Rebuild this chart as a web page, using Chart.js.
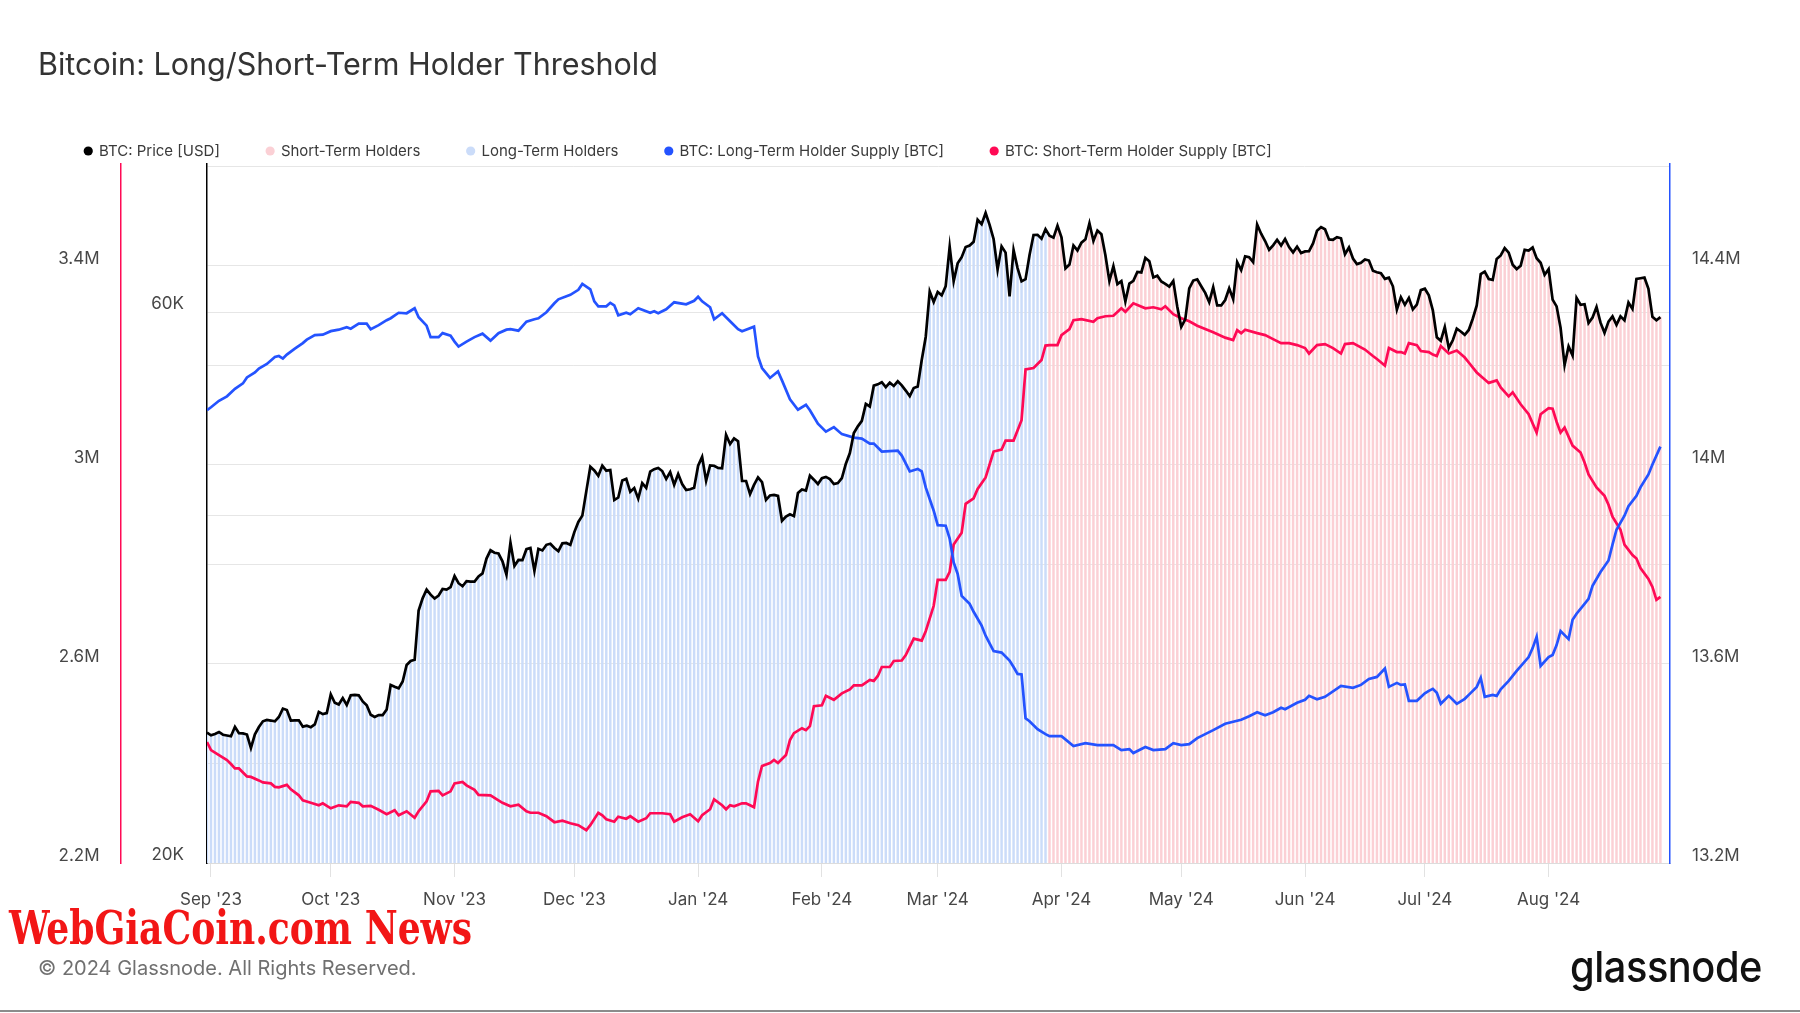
<!DOCTYPE html>
<html>
<head>
<meta charset="utf-8">
<title>Bitcoin: Long/Short-Term Holder Threshold</title>
<script src="https://cdn.jsdelivr.net/npm/chart.js@4.4.1/dist/chart.umd.min.js"></script>
<style>
  html, body { margin: 0; padding: 0; background: #fff; }
  #wrap { position: relative; width: 1800px; height: 1013px; overflow: hidden; }
  #chart { position: absolute; left: 0; top: 0; }
  .watermark {
    position: absolute; left: 9px; top: 900px;
    font-family: 'DejaVu Serif Condensed', 'DejaVu Serif', serif; font-stretch: condensed;
    font-weight: bold; font-size: 47px; color: #f21616; white-space: nowrap;
    transform-origin: 0 0;
  }
  .copyright {
    position: absolute; left: 38px; top: 956px;
    font-family: Inter, sans-serif; font-size: 20px; color: #707070; white-space: nowrap;
  }
  .logo {
    position: absolute; left: 1570px; top: 940px;
    font-family: Inter, sans-serif; font-size: 43px; font-weight: 500; color: #111;
    letter-spacing: -0.5px; white-space: nowrap; transform-origin: 0 0;
  }
  .rule { position: absolute; left: 0; top: 1010px; width: 1800px; height: 2px; background: #8c8c8c; }
</style>
</head>
<body>
<div id="wrap">
  <canvas id="chart" width="1800" height="1013"></canvas>
  <div class="watermark" id="watermark">WebGiaCoin.com News</div>
  <div class="copyright">© 2024 Glassnode. All Rights Reserved.</div>
  <div class="logo" id="logo">glassnode</div>
  <div class="rule"></div>
</div>
<script>
// Bitcoin: Long/Short-Term Holder Threshold

// x positions are days since 1 Sep 2023
// daily BTC price [USD], first value is 31 Aug 2023 (day -1)
const priceStartDay = -1;
const btcPrice = [
  25940,
  // Sep '23
  25800, 25870, 25970, 25830, 25790, 25750, 26240, 25910, 25900, 25840,
  25160, 25850, 26230, 26530, 26600, 26570, 26530, 26760, 27210, 27130,
  26570, 26580, 26580, 26250, 26300, 26220, 26370, 27030, 26910, 26970,
  // Oct '23
  27990, 27530, 27430, 27790, 27410, 27950, 27970, 27940, 27600, 27390,
  26880, 26760, 26860, 26860, 27160, 28520, 28420, 28330, 28720, 29680,
  29920, 29990, 33090, 33900, 34500, 34150, 33890, 34090, 34540, 34500, 34670,
  // Nov '23
  35440, 34940, 34730, 35080, 35050, 35050, 35420, 35630, 36700, 37310,
  37130, 37070, 36500, 35540, 37880, 36160, 36600, 36580, 37390, 37480,
  35810, 37420, 37300, 37720, 37800, 37480, 37250, 37830, 37860, 37710,
  // Dec '23
  38690, 39480, 39980, 41980, 44080, 43750, 43290, 44170, 43730, 43790,
  41240, 41450, 42890, 43020, 41930, 42240, 41360, 42660, 42260, 43650,
  43860, 43970, 43700, 43010, 43610, 42520, 43440, 42580, 42070, 42140, 42260,
  // Jan '24
  44170, 44950, 42850, 44180, 44160, 43970, 43930, 46970, 46120, 46630,
  46370, 42850, 42840, 41730, 42510, 43150, 42740, 41260, 41620, 41660,
  41580, 39570, 39900, 40080, 39940, 41820, 42120, 42030, 43300, 42950, 42580,
  // Feb '24
  43080, 43190, 43000, 42580, 42660, 43080, 44340, 45290, 47130, 47770,
  48290, 49960, 49700, 51810, 51940, 52160, 51660, 52120, 51780, 52260,
  51840, 51300, 50730, 51570, 51730, 54520, 57090, 62500, 61200,
  // Mar '24
  62440, 62030, 63170, 68330, 63800, 66110, 66930, 68300, 68500, 69020,
  72120, 71480, 73100, 71400, 69400, 65320, 68390, 67550, 61910, 67910,
  65500, 63780, 64060, 67230, 69960, 69990, 69450, 70780, 69850, 69580, 71280,
  // Apr '24
  69650, 65460, 65960, 68510, 67840, 68900, 69360, 71620, 69140, 70590,
  70060, 67200, 63820, 65740, 63430, 63810, 61280, 63510, 63840, 64990,
  64930, 66840, 66400, 64290, 64500, 63770, 63460, 63120, 63840, 60640,
  // May '24
  58250, 59120, 62890, 63890, 64030, 63160, 62330, 61190, 63050, 60790,
  60790, 61450, 62900, 61550, 66270, 65230, 67050, 66940, 66280, 71450,
  70140, 69120, 67930, 68530, 69290, 68510, 69390, 68300, 67580, 68360, 67490,
  // Jun '24
  67710, 67750, 68800, 70570, 71080, 70760, 69340, 69300, 69650, 69510,
  67320, 68240, 66750, 66010, 66190, 66640, 66490, 65150, 64960, 64830,
  64100, 64260, 63160, 60280, 61800, 60870, 61710, 60320, 60890, 62680,
  // Jul '24
  62850, 62030, 60200, 57060, 56660, 58240, 55860, 56710, 58050, 57720,
  57340, 57890, 59200, 60800, 64720, 65040, 64090, 63970, 66710, 67160,
  68170, 67550, 65930, 65370, 65800, 67910, 67810, 68250, 66800, 66190, 64620,
  // Aug '24
  65350, 61500, 60680, 58120, 53990, 56030, 55030, 61710, 60880, 60940,
  58710, 59350, 60610, 58740, 57560, 58870, 59480, 58480, 59490, 59010,
  61160, 60380, 64090, 64180, 64260, 62830, 59420, 59030, 59390
];

// first day shaded as "Short-Term Holders" (29 Mar 2024), earlier days are "Long-Term Holders"
const sthFromDay = 210;

// Long-Term Holder supply [M BTC]
const lthDays = [
  -1, 0, 2, 4, 6, 8, 9, 11, 12, 14,
  16, 17, 18, 19, 21, 23, 24, 26, 28, 30,
  32, 34, 35, 37, 39, 40, 42, 44, 45, 47,
  49, 51, 52, 54, 55, 57, 58, 60, 61, 62,
  64, 66, 68, 70, 72, 74, 75, 77, 79, 81,
  82, 84, 86, 87, 90, 92, 93, 95, 96, 97,
  99, 100, 101, 102, 104, 105, 107, 110, 111, 112,
  114, 116, 119, 121, 122, 123, 125, 126, 128, 130,
  132, 133, 136, 137, 138, 140, 142, 143, 145, 147,
  149, 150, 152, 154, 156, 158, 161, 163, 165, 166,
  168, 172, 173, 175, 177, 178, 179, 181, 182, 184,
  185, 186, 187, 188, 190, 191, 193, 194, 196, 198,
  200, 201, 202, 203, 204, 205, 207, 209, 210, 213,
  216, 219, 222, 226, 228, 230, 231, 234, 236, 239,
  241, 243, 245, 247, 251, 254, 258, 260, 262, 264,
  266, 268, 269, 272, 274, 275, 277, 279, 283, 286,
  288, 290, 292, 294, 295, 297, 298, 299, 300, 302,
  304, 305, 306, 307, 308, 310, 312, 314, 315, 317,
  318, 319, 321, 322, 323, 325, 326, 327, 330, 331,
  332, 333, 335, 336, 337, 338, 340, 341, 342, 344,
  345, 346, 348, 350, 351, 352, 354, 355, 357, 358,
  360, 361, 363
];
const lthSupply = [
  14.110, 14.116, 14.129, 14.138, 14.153, 14.164, 14.176, 14.186, 14.194, 14.203,
  14.217, 14.219, 14.214, 14.222, 14.234, 14.245, 14.252, 14.261, 14.262, 14.269,
  14.272, 14.277, 14.274, 14.284, 14.284, 14.273, 14.281, 14.291, 14.295, 14.306,
  14.305, 14.315, 14.297, 14.280, 14.257, 14.257, 14.265, 14.260, 14.248, 14.238,
  14.248, 14.257, 14.264, 14.250, 14.265, 14.272, 14.273, 14.270, 14.288, 14.293,
  14.295, 14.307, 14.325, 14.333, 14.342, 14.352, 14.364, 14.353, 14.329, 14.319,
  14.319, 14.326, 14.321, 14.301, 14.306, 14.303, 14.315, 14.306, 14.309, 14.305,
  14.313, 14.327, 14.323, 14.330, 14.338, 14.329, 14.317, 14.293, 14.305, 14.289,
  14.273, 14.269, 14.278, 14.218, 14.195, 14.175, 14.188, 14.170, 14.132, 14.111,
  14.121, 14.110, 14.083, 14.067, 14.076, 14.062, 14.055, 14.053, 14.043, 14.043,
  14.027, 14.029, 14.019, 13.987, 13.992, 13.987, 13.955, 13.908, 13.879, 13.878,
  13.852, 13.804, 13.781, 13.737, 13.721, 13.705, 13.677, 13.657, 13.626, 13.623,
  13.607, 13.594, 13.580, 13.579, 13.491, 13.485, 13.469, 13.459, 13.455, 13.455,
  13.435, 13.441, 13.437, 13.437, 13.427, 13.429, 13.421, 13.433, 13.427, 13.429,
  13.441, 13.437, 13.439, 13.451, 13.467, 13.480, 13.488, 13.495, 13.503, 13.497,
  13.503, 13.512, 13.509, 13.522, 13.528, 13.536, 13.529, 13.534, 13.556, 13.552,
  13.558, 13.570, 13.574, 13.591, 13.554, 13.562, 13.558, 13.559, 13.526, 13.526,
  13.541, 13.546, 13.550, 13.542, 13.520, 13.536, 13.520, 13.530, 13.538, 13.554,
  13.572, 13.534, 13.538, 13.536, 13.549, 13.566, 13.576, 13.586, 13.614, 13.632,
  13.655, 13.596, 13.614, 13.618, 13.638, 13.666, 13.650, 13.689, 13.701, 13.721,
  13.731, 13.757, 13.785, 13.808, 13.840, 13.870, 13.898, 13.917, 13.938, 13.955,
  13.981, 14.001, 14.037
];

// Short-Term Holder supply [M BTC]
const sthDays = [
  -1, 0, 2, 4, 5, 6, 7, 9, 10, 12,
  13, 15, 16, 17, 19, 20, 22, 23, 25, 27,
  28, 30, 32, 34, 35, 37, 38, 40, 42, 44,
  46, 47, 49, 51, 52, 54, 55, 57, 58, 60,
  61, 63, 64, 66, 67, 70, 72, 73, 75, 77,
  79, 80, 82, 84, 86, 88, 90, 92, 94, 95,
  97, 98, 99, 101, 102, 104, 105, 107, 109, 110,
  113, 115, 116, 118, 120, 122, 123, 125, 126, 128,
  129, 130, 131, 133, 134, 135, 136, 137, 138, 140,
  141, 142, 144, 145, 146, 148, 149, 150, 151, 153,
  154, 156, 158, 160, 161, 163, 165, 166, 167, 168,
  170, 171, 173, 174, 176, 178, 179, 181, 182, 184,
  185, 186, 188, 189, 191, 192, 194, 196, 198, 199,
  201, 203, 204, 206, 208, 209, 210, 212, 213, 215,
  216, 218, 221, 222, 224, 226, 228, 229, 231, 234,
  236, 238, 239, 241, 243, 245, 247, 251, 254, 256,
  257, 258, 259, 262, 264, 266, 268, 270, 272, 274,
  275, 277, 279, 281, 283, 284, 286, 289, 291, 292,
  294, 295, 297, 298, 299, 300, 302, 303, 305, 306,
  307, 308, 310, 312, 314, 315, 317, 319, 320, 322,
  323, 325, 326, 328, 330, 332, 333, 335, 336, 337,
  338, 339, 341, 343, 344, 345, 347, 349, 350, 351,
  353, 354, 356, 357, 358, 360, 361, 362, 363
];
const sthSupply = [
  2.443, 2.427, 2.417, 2.407, 2.399, 2.390, 2.390, 2.374, 2.373, 2.366,
  2.362, 2.360, 2.353, 2.352, 2.357, 2.348, 2.336, 2.326, 2.321, 2.316,
  2.320, 2.310, 2.316, 2.314, 2.323, 2.321, 2.314, 2.315, 2.307, 2.298,
  2.306, 2.296, 2.304, 2.291, 2.304, 2.324, 2.344, 2.345, 2.336, 2.344,
  2.360, 2.363, 2.356, 2.347, 2.337, 2.336, 2.326, 2.321, 2.314, 2.317,
  2.304, 2.301, 2.301, 2.294, 2.282, 2.285, 2.280, 2.276, 2.266, 2.276,
  2.301, 2.296, 2.288, 2.283, 2.293, 2.289, 2.294, 2.283, 2.290, 2.300,
  2.300, 2.298, 2.283, 2.292, 2.298, 2.284, 2.296, 2.308, 2.328, 2.316,
  2.308, 2.316, 2.314, 2.320, 2.320, 2.316, 2.312, 2.364, 2.395, 2.401,
  2.407, 2.401, 2.417, 2.447, 2.461, 2.471, 2.467, 2.475, 2.515, 2.517,
  2.536, 2.528, 2.541, 2.549, 2.557, 2.557, 2.568, 2.566, 2.576, 2.594,
  2.594, 2.606, 2.607, 2.618, 2.651, 2.647, 2.666, 2.717, 2.769, 2.769,
  2.785, 2.840, 2.864, 2.922, 2.933, 2.952, 2.975, 3.027, 3.031, 3.049,
  3.049, 3.090, 3.192, 3.195, 3.211, 3.240, 3.241, 3.241, 3.261, 3.273,
  3.291, 3.293, 3.288, 3.295, 3.299, 3.300, 3.315, 3.308, 3.325, 3.315,
  3.317, 3.313, 3.319, 3.303, 3.295, 3.289, 3.280, 3.267, 3.256, 3.251,
  3.271, 3.265, 3.272, 3.265, 3.261, 3.253, 3.245, 3.245, 3.241, 3.235,
  3.224, 3.241, 3.243, 3.235, 3.224, 3.243, 3.245, 3.232, 3.219, 3.213,
  3.200, 3.235, 3.227, 3.227, 3.224, 3.245, 3.241, 3.229, 3.227, 3.222,
  3.219, 3.239, 3.224, 3.230, 3.216, 3.206, 3.186, 3.172, 3.165, 3.170,
  3.156, 3.138, 3.146, 3.122, 3.102, 3.065, 3.102, 3.114, 3.113, 3.087,
  3.065, 3.075, 3.039, 3.025, 3.005, 2.981, 2.955, 2.938, 2.920, 2.896,
  2.870, 2.840, 2.819, 2.812, 2.793, 2.771, 2.755, 2.729, 2.735
];

// axis ticks
const monthTickDays = [0, 30, 61, 91, 122, 153, 182, 213, 243, 274, 304, 335];
const monthTickLabels = ["Sep '23", "Oct '23", "Nov '23", "Dec '23", "Jan '24", "Feb '24",
  "Mar '24", "Apr '24", "May '24", "Jun '24", "Jul '24", "Aug '24"];
const sthAxisTicks = [2.2, 2.4, 2.6, 2.8, 3.0, 3.2, 3.4, 3.6];
const sthAxisLabels = ['2.2M', '', '2.6M', '', '3M', '', '3.4M', ''];
const priceAxisTicks = [20000, 40000, 60000];
const priceAxisLabels = ['20K', '', '60K'];
const lthAxisTicks = [13.2, 13.6, 14.0, 14.4];
const lthAxisLabels = ['13.2M', '13.6M', '14M', '14.4M'];

const COLORS = {
  price: '#000000',
  lth: '#2453ff',
  sth: '#ff0a55',
  lthBar: 'rgb(203, 220, 249)',
  sthBar: 'rgb(251, 208, 213)',
  grid: '#e6e6e6',
  text: '#474747'
};

Chart.defaults.font.family = 'Inter, sans-serif';
Chart.defaults.color = COLORS.text;

const pricePoints = btcPrice.map((p, i) => ({ x: priceStartDay + i, y: p }));
const lthBarPoints = pricePoints.filter(pt => pt.x < sthFromDay);
const sthBarPoints = pricePoints.filter(pt => pt.x >= sthFromDay);
const lthPoints = lthDays.map((d, i) => ({ x: d, y: lthSupply[i] }));
const sthPoints = sthDays.map((d, i) => ({ x: d, y: sthSupply[i] }));

const tickFont = { size: 17 };

function fixedTicks(values) {
  return scale => { scale.ticks = values.map(v => ({ value: v })); };
}

// pin the legend block height so the plot starts where the original does
const legendHeightPlugin = {
  id: 'legendHeight',
  afterInit(chart) {
    const legend = chart.legend;
    const fit = legend.fit;
    legend.fit = function () {
      fit.call(this);
      this.height = 67.5;
    };
  }
};

const ctx = document.getElementById('chart').getContext('2d');
new Chart(ctx, {
  type: 'line',
  data: {
    datasets: [
      {
        label: 'BTC: Price [USD]',
        data: pricePoints,
        yAxisID: 'yPrice',
        borderColor: COLORS.price,
        backgroundColor: COLORS.price,
        borderWidth: 2.7,
        pointRadius: 0,
        order: 0
      },
      {
        type: 'bar',
        label: 'Short-Term Holders',
        data: sthBarPoints,
        yAxisID: 'yPrice',
        backgroundColor: COLORS.sthBar,
        barThickness: 1.8,
        grouped: false,
        order: 5
      },
      {
        type: 'bar',
        label: 'Long-Term Holders',
        data: lthBarPoints,
        yAxisID: 'yPrice',
        backgroundColor: COLORS.lthBar,
        barThickness: 1.8,
        grouped: false,
        order: 5
      },
      {
        label: 'BTC: Long-Term Holder Supply [BTC]',
        data: lthPoints,
        yAxisID: 'yLth',
        borderColor: COLORS.lth,
        backgroundColor: COLORS.lth,
        borderWidth: 2.7,
        pointRadius: 0,
        order: 1
      },
      {
        label: 'BTC: Short-Term Holder Supply [BTC]',
        data: sthPoints,
        yAxisID: 'ySth',
        borderColor: COLORS.sth,
        backgroundColor: COLORS.sth,
        borderWidth: 2.7,
        pointRadius: 0,
        order: 1
      }
    ]
  },
  options: {
    responsive: false,
    animation: false,
    devicePixelRatio: 1,
    events: [],
    layout: { padding: { left: 38, right: 0, top: 0, bottom: 0 } },
    plugins: {
      title: {
        display: true,
        text: 'Bitcoin: Long/Short-Term Holder Threshold',
        align: 'start',
        color: '#333333',
        font: { size: 30.5, weight: 'normal' },
        padding: { top: 48, bottom: 11.9 }
      },
      legend: {
        display: true,
        align: 'start',
        labels: {
          usePointStyle: true,
          pointStyle: 'circle',
          boxWidth: 6.5,
          boxHeight: 6.5,
          padding: 47,
          color: '#3a3a3a',
          font: { size: 15 },
          sort: (a, b) => a.datasetIndex - b.datasetIndex,
          generateLabels: chart =>
            Chart.defaults.plugins.legend.labels.generateLabels(chart)
              .map(item => ({ ...item, lineWidth: 0 }))
        }
      },
      tooltip: { enabled: false }
    },
    scales: {
      x: {
        type: 'linear',
        min: -1,
        max: 365.4,
        offset: false,
        afterBuildTicks: fixedTicks(monthTickDays),
        afterFit: scale => { scale.height = 150; },
        ticks: {
          autoSkip: false,
          maxRotation: 0,
          padding: 12.5,
          font: tickFont,
          callback: (v, i) => monthTickLabels[i]
        },
        grid: { offset: false, drawOnChartArea: false, tickLength: 14, color: '#e2e2e2' },
        border: { color: '#dcdcdc' }
      },
      ySth: {
        type: 'linear',
        position: 'left',
        weight: 2,
        min: 2.2,
        max: 3.605,
        afterBuildTicks: fixedTicks(sthAxisTicks),
        afterFit: scale => { scale.width = 82.5; },
        ticks: {
          autoSkip: false,
          padding: 21,
          labelOffset: -7,
          font: tickFont,
          callback: (v, i) => sthAxisLabels[i]
        },
        grid: { color: COLORS.grid, drawTicks: false },
        border: { color: COLORS.sth, width: 1.5 }
      },
      yPrice: {
        type: 'logarithmic',
        position: 'left',
        weight: 1,
        min: 20000,
        max: 80600,
        afterBuildTicks: fixedTicks(priceAxisTicks),
        afterFit: scale => { scale.width = 86.5; },
        ticks: {
          autoSkip: false,
          padding: 23,
          labelOffset: -8,
          font: tickFont,
          callback: (v, i) => priceAxisLabels[i]
        },
        grid: { color: COLORS.grid, drawTicks: false },
        border: { color: COLORS.price, width: 1.5 }
      },
      yLth: {
        type: 'linear',
        position: 'right',
        min: 13.2,
        max: 14.605,
        afterBuildTicks: fixedTicks(lthAxisTicks),
        afterFit: scale => { scale.width = 130; },
        ticks: {
          autoSkip: false,
          padding: 22,
          labelOffset: -7,
          font: tickFont,
          callback: (v, i) => lthAxisLabels[i]
        },
        grid: { display: false, drawTicks: false },
        border: { color: COLORS.lth, width: 1.5 }
      }
    }
  },
  plugins: [legendHeightPlugin]
});

// squeeze the overlay texts to the widths they have in the original
function fitWidth(id, width) {
  const el = document.getElementById(id);
  const w = el.getBoundingClientRect().width;
  el.style.transform = 'scaleX(' + (width / w) + ')';
}
fitWidth('watermark', 463);
fitWidth('logo', 192);
</script>
</body>
</html>
